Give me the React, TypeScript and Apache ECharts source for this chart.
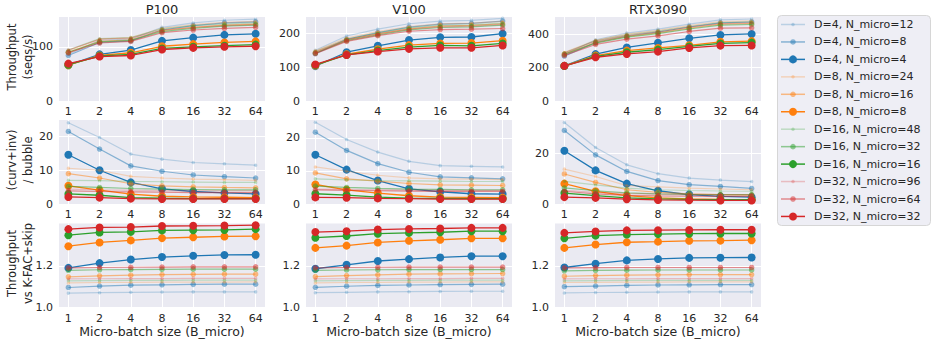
import React, { useEffect, useRef } from 'react';
import * as echarts from 'echarts';

const FONT = 'DejaVu Sans';
const TEXT = '#262626';

const xLabels = ['1', '2', '4', '8', '16', '32', '64'];
const gpuNames = ['P100', 'V100', 'RTX3090'];
const rowLabels = ['Throughput\n(seqs/s)', '(curv+inv)\n/ bubble', 'Throughput\nvs K-FAC+skip'];
const xAxisTitle = 'Micro-batch size (B_micro)';

const seriesNames = [
  'D=4, N_micro=12', 'D=4, N_micro=8', 'D=4, N_micro=4',
  'D=8, N_micro=24', 'D=8, N_micro=16', 'D=8, N_micro=8',
  'D=16, N_micro=48', 'D=16, N_micro=32', 'D=16, N_micro=16',
  'D=32, N_micro=96', 'D=32, N_micro=64', 'D=32, N_micro=32',
];
const depthColors = ['#1f77b4', '#ff7f0e', '#2ca02c', '#d62728'];
const variantOpacity = [0.25, 0.5, 1];
const variantSymbol = [3.5, 5.5, 8];

// Throughput (seqs/s)
const p100Throughput = [
  [86, 112, 114, 136, 144, 149, 151],
  [84, 108, 111, 131, 139, 144, 146],
  [66, 86, 94, 111, 117, 122, 124],
  [93, 114, 117, 134, 141, 145, 147],
  [90, 110, 113, 130, 136, 140, 142],
  [66, 84, 89, 101, 105, 108, 110],
  [94, 115, 117, 133, 139, 142, 144],
  [90, 109, 112, 128, 134, 138, 140],
  [67, 83, 86, 97, 100, 102, 104],
  [94, 114, 116, 131, 136, 139, 141],
  [89, 107, 110, 126, 131, 134, 136],
  [69, 82, 84, 95, 98, 100, 101],
];
const v100Throughput = [
  [150, 192, 212, 228, 236, 238, 244],
  [140, 182, 202, 218, 227, 229, 236],
  [103, 144, 163, 180, 188, 189, 199],
  [148, 186, 205, 220, 228, 230, 235],
  [143, 180, 198, 213, 221, 223, 228],
  [105, 138, 153, 165, 170, 171, 178],
  [146, 183, 201, 216, 223, 225, 230],
  [141, 178, 195, 210, 217, 219, 224],
  [106, 136, 149, 159, 164, 163, 170],
  [145, 181, 198, 212, 219, 221, 226],
  [140, 176, 193, 206, 211, 212, 214],
  [108, 136, 146, 154, 157, 157, 164],
];
const rtxThroughput = [
  [280, 368, 408, 432, 462, 488, 493],
  [270, 352, 390, 414, 445, 470, 475],
  [211, 282, 322, 350, 377, 397, 403],
  [292, 365, 402, 425, 453, 478, 482],
  [282, 352, 388, 410, 438, 462, 466],
  [211, 273, 303, 319, 335, 356, 360],
  [290, 362, 398, 420, 448, 472, 476],
  [280, 348, 384, 405, 433, 456, 460],
  [210, 268, 293, 309, 328, 346, 351],
  [288, 360, 394, 415, 444, 466, 470],
  [274, 340, 372, 392, 418, 438, 440],
  [211, 263, 283, 297, 319, 333, 334],
];

// (curv+inv) / bubble
const p100Ratio = [
  [24.1, 19.7, 14.8, 13.3, 12.3, 11.9, 11.5],
  [21.5, 16.3, 11.3, 9.7, 8.6, 8.1, 7.7],
  [14.6, 10.0, 6.4, 4.5, 3.7, 3.3, 3.0],
  [10.6, 10.0, 8.2, 7.7, 7.4, 7.2, 7.0],
  [9.0, 7.7, 6.0, 5.4, 5.1, 4.9, 4.8],
  [5.4, 4.1, 2.9, 2.3, 2.1, 2.0, 1.9],
  [7.0, 6.9, 6.7, 6.6, 6.5, 6.4, 6.4],
  [5.2, 4.9, 4.6, 4.4, 4.3, 4.2, 4.2],
  [3.0, 2.6, 1.9, 1.7, 1.6, 1.6, 1.6],
  [4.4, 4.2, 4.1, 4.0, 3.9, 3.9, 3.9],
  [3.9, 3.7, 3.6, 3.5, 3.4, 3.4, 3.4],
  [2.1, 1.9, 1.6, 1.5, 1.5, 1.5, 1.5],
];
const v100Ratio = [
  [24.7, 19.5, 15.7, 12.9, 11.6, 11.4, 11.2],
  [21.7, 16.2, 12.2, 9.6, 8.2, 7.9, 7.6],
  [14.9, 10.4, 7.1, 4.6, 3.7, 3.1, 3.0],
  [11.2, 9.9, 8.7, 7.9, 7.6, 7.5, 7.4],
  [9.4, 7.6, 6.9, 6.2, 5.8, 5.7, 5.6],
  [5.9, 4.3, 3.3, 2.5, 2.1, 2.0, 1.9],
  [7.6, 7.3, 7.1, 7.0, 6.9, 6.8, 6.8],
  [5.4, 5.0, 4.7, 4.5, 4.4, 4.3, 4.3],
  [3.1, 2.7, 2.1, 1.8, 1.7, 1.6, 1.6],
  [4.5, 4.4, 4.3, 4.2, 4.1, 4.1, 4.1],
  [4.3, 4.1, 4.0, 3.9, 3.8, 3.8, 3.8],
  [2.0, 1.9, 1.7, 1.6, 1.5, 1.5, 1.5],
];
const rtxRatio = [
  [32.0, 22.2, 15.4, 11.9, 10.2, 9.4, 8.8],
  [28.9, 19.3, 12.8, 9.2, 7.6, 6.9, 6.1],
  [20.9, 13.2, 8.0, 5.2, 3.7, 3.0, 2.7],
  [13.7, 10.8, 7.2, 6.7, 6.2, 5.9, 5.6],
  [11.8, 8.5, 5.6, 4.6, 4.0, 3.7, 3.5],
  [8.0, 5.0, 3.3, 2.4, 2.0, 1.8, 1.7],
  [8.9, 7.5, 6.2, 5.6, 5.3, 5.1, 5.0],
  [6.3, 5.2, 4.4, 4.0, 3.8, 3.7, 3.7],
  [4.3, 3.3, 2.4, 2.0, 1.8, 1.7, 1.7],
  [5.4, 4.6, 4.1, 3.9, 3.8, 3.7, 3.7],
  [5.0, 4.0, 3.4, 3.2, 3.1, 3.0, 3.0],
  [2.7, 2.4, 1.9, 1.6, 1.5, 1.4, 1.4],
];

// Throughput vs K-FAC+skip
const p100Speedup = [
  [1.069, 1.071, 1.073, 1.074, 1.075, 1.075, 1.075],
  [1.096, 1.103, 1.107, 1.109, 1.111, 1.112, 1.112],
  [1.190, 1.213, 1.230, 1.242, 1.248, 1.252, 1.253],
  [1.118, 1.120, 1.121, 1.122, 1.122, 1.122, 1.123],
  [1.147, 1.152, 1.155, 1.158, 1.159, 1.160, 1.160],
  [1.294, 1.312, 1.322, 1.333, 1.337, 1.341, 1.342],
  [1.128, 1.129, 1.130, 1.130, 1.131, 1.131, 1.131],
  [1.178, 1.181, 1.182, 1.183, 1.184, 1.184, 1.184],
  [1.347, 1.360, 1.363, 1.370, 1.371, 1.372, 1.376],
  [1.137, 1.138, 1.139, 1.139, 1.140, 1.140, 1.140],
  [1.190, 1.192, 1.193, 1.194, 1.195, 1.195, 1.195],
  [1.376, 1.384, 1.386, 1.391, 1.392, 1.393, 1.395],
];
const v100Speedup = [
  [1.071, 1.073, 1.075, 1.076, 1.077, 1.078, 1.078],
  [1.097, 1.102, 1.106, 1.108, 1.110, 1.111, 1.112],
  [1.186, 1.205, 1.223, 1.232, 1.240, 1.246, 1.246],
  [1.118, 1.120, 1.121, 1.122, 1.122, 1.123, 1.123],
  [1.148, 1.153, 1.157, 1.160, 1.161, 1.162, 1.163],
  [1.286, 1.297, 1.312, 1.320, 1.325, 1.332, 1.332],
  [1.128, 1.129, 1.130, 1.130, 1.131, 1.131, 1.131],
  [1.178, 1.180, 1.181, 1.182, 1.182, 1.182, 1.182],
  [1.335, 1.343, 1.354, 1.358, 1.361, 1.366, 1.366],
  [1.137, 1.138, 1.138, 1.139, 1.139, 1.140, 1.140],
  [1.190, 1.192, 1.193, 1.194, 1.194, 1.194, 1.194],
  [1.362, 1.366, 1.374, 1.377, 1.379, 1.382, 1.382],
];
const rtxSpeedup = [
  [1.070, 1.072, 1.073, 1.074, 1.075, 1.075, 1.075],
  [1.100, 1.103, 1.106, 1.108, 1.109, 1.110, 1.110],
  [1.192, 1.210, 1.226, 1.233, 1.238, 1.239, 1.240],
  [1.120, 1.121, 1.122, 1.122, 1.123, 1.123, 1.123],
  [1.150, 1.153, 1.155, 1.157, 1.158, 1.158, 1.158],
  [1.286, 1.302, 1.313, 1.316, 1.320, 1.321, 1.323],
  [1.128, 1.129, 1.130, 1.130, 1.130, 1.130, 1.130],
  [1.176, 1.178, 1.179, 1.180, 1.180, 1.180, 1.180],
  [1.332, 1.345, 1.350, 1.352, 1.354, 1.355, 1.355],
  [1.137, 1.138, 1.138, 1.139, 1.139, 1.139, 1.139],
  [1.190, 1.191, 1.192, 1.192, 1.192, 1.192, 1.192],
  [1.358, 1.365, 1.370, 1.371, 1.372, 1.373, 1.373],
];

const panelData = [
  [p100Throughput, v100Throughput, rtxThroughput],
  [p100Ratio, v100Ratio, rtxRatio],
  [p100Speedup, v100Speedup, rtxSpeedup],
];
const yMax = [
  [155, 248, 505],
  [24.9, 25.4, 33],
  [1.403, 1.403, 1.403],
];
const yMin = [0, 0, 1.0];
const yTicks = [
  [[0, 100], [0, 100, 200], [0, 200, 400]],
  [[0, 10, 20], [0, 10, 20], [0, 20]],
  [[1.0, 1.2], [1.0, 1.2], [1.0, 1.2]],
];

const colLeft = [59, 306, 555];
const rowTop = [17, 120, 223.5];
const PW = 206;
const PH = 84;

function fmtY(v: number, row: number) {
  if (row === 2) return v.toFixed(1);
  return String(Math.round(v));
}

export default function App() {
  const ref = useRef<HTMLDivElement>(null);
  useEffect(() => {
    if (!ref.current) return;
    const chart = echarts.init(ref.current, null, { renderer: 'svg' });
    const grids: any[] = [];
    const xAxes: any[] = [];
    const yAxes: any[] = [];
    const series: any[] = [];
    const xIdx = [0, 1, 2, 3, 4, 5, 6];
    for (let r = 0; r < 3; r++) {
      for (let c = 0; c < 3; c++) {
        const g = r * 3 + c;
        grids.push({
          left: colLeft[c], top: rowTop[r], width: PW, height: PH,
          show: true, backgroundColor: '#EAEAF2', borderWidth: 0, containLabel: false,
        });
        xAxes.push({
          type: 'value', gridIndex: g, min: -0.3, max: 6.3,
          axisLine: { show: false },
          axisTick: { show: false, customValues: xIdx },
          axisLabel: {
            customValues: xIdx, margin: 5,
            formatter: (v: number) => xLabels[Math.round(v)] ?? '',
            fontFamily: FONT, fontSize: 11, color: TEXT,
          },
          splitLine: { show: true, lineStyle: { color: '#ffffff', width: 1 } },
        });
        yAxes.push({
          type: 'value', gridIndex: g, min: yMin[r], max: yMax[r][c],
          axisLine: { show: false },
          axisTick: { show: false, customValues: yTicks[r][c] },
          axisLabel: {
            customValues: yTicks[r][c], margin: 6,
            formatter: (v: number) => fmtY(v, r),
            fontFamily: FONT, fontSize: 11, color: TEXT,
          },
          splitLine: { show: true, lineStyle: { color: '#ffffff', width: 1 } },
        });
        const panel = panelData[r][c];
        for (let i = 0; i < 12; i++) {
          const variant = i % 3;
          const color = depthColors[Math.floor(i / 3)];
          series.push({
            type: 'line', name: seriesNames[i], xAxisIndex: g, yAxisIndex: g,
            data: panel[i].map((v, j) => [j, v]),
            symbol: 'circle', symbolSize: variantSymbol[variant], showSymbol: true,
            lineStyle: { color, width: variant === 2 ? 1.3 : 1.2, opacity: variantOpacity[variant] },
            itemStyle: { color, opacity: variantOpacity[variant] },
            emphasis: { disabled: true }, silent: true, z: 2 + i,
          });
        }
      }
    }
    const graphic: any[] = [];
    for (let c = 0; c < 3; c++) {
      graphic.push({
        type: 'text', x: colLeft[c] + PW / 2, y: 9,
        style: { text: gpuNames[c], font: `13px "${FONT}"`, fill: TEXT, align: 'center', verticalAlign: 'middle' },
      });
      graphic.push({
        type: 'text', x: colLeft[c] + PW / 2, y: 331,
        style: { text: xAxisTitle, font: `12.5px "${FONT}"`, fill: TEXT, align: 'center', verticalAlign: 'middle' },
      });
    }
    for (let r = 0; r < 3; r++) {
      graphic.push({
        type: 'text', x: 20, y: rowTop[r] + PH / 2 - 2, rotation: Math.PI / 2,
        style: {
          text: rowLabels[r], font: `11.5px "${FONT}"`, fill: TEXT, align: 'center',
          verticalAlign: 'middle', lineHeight: 16.5,
        },
      });
    }
    // legend (drawn to match per-entry marker size and alpha)
    const LX = 777, LY = 15, LW = 153, LH = 210;
    graphic.push({
      type: 'rect', shape: { x: LX + 0.5, y: LY + 0.5, width: LW, height: LH, r: 4 },
      style: { fill: '#EEEEF5', stroke: '#D6D6D6', lineWidth: 1 }, z: 100,
    });
    for (let i = 0; i < 12; i++) {
      const variant = i % 3;
      const color = depthColors[Math.floor(i / 3)];
      const yy = 24.5 + i * 17.45;
      graphic.push({
        type: 'line', shape: { x1: 781, y1: yy, x2: 805, y2: yy },
        style: { stroke: color, lineWidth: 1.5, opacity: variantOpacity[variant] }, z: 101,
      });
      graphic.push({
        type: 'circle', shape: { cx: 793, cy: yy, r: variantSymbol[variant] / 2 },
        style: { fill: color, opacity: variantOpacity[variant] }, z: 102,
      });
      graphic.push({
        type: 'text', x: 814, y: yy,
        style: { text: seriesNames[i], font: `11px "${FONT}"`, fill: TEXT, align: 'left', verticalAlign: 'middle' },
        z: 103,
      });
    }
    chart.setOption({
      animation: false,
      grid: grids,
      xAxis: xAxes,
      yAxis: yAxes,
      series,
      graphic,
    });
    return () => chart.dispose();
  }, []);
  return <div ref={ref} style={{ position: 'absolute', left: 0, top: 0, width: 934, height: 342 }} />;
}
